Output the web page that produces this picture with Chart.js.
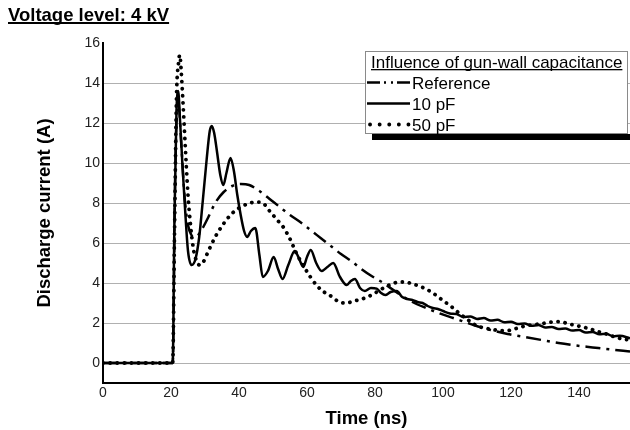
<!DOCTYPE html>
<html><head><meta charset="utf-8">
<script src="https://cdn.jsdelivr.net/npm/chart.js@4"></script>
<style>html,body{margin:0;padding:0;background:#fff}canvas{display:block}</style>
</head><body>
<canvas id="c" width="630" height="430"></canvas>
<script>
const FONT = '"Liberation Sans", Arial, Helvetica, sans-serif';
const chartTitle = 'Voltage level: 4 kV';
const legendTitle = 'Influence of gun-wall capacitance';
const seriesNames = ['Reference', '10 pF', '50 pF'];
const xAxisTitle = 'Time (ns)';
const yAxisTitle = 'Discharge current (A)';
const xTicks = [0, 20, 40, 60, 80, 100, 120, 140];
const yTicks = [0, 2, 4, 6, 8, 10, 12, 14, 16];

const refTime = [0, 20.5, 21.2, 21.7, 22.2, 23.0, 24.0, 25.0, 26.0, 27.0, 28.0, 29.5, 31.0, 33.0, 35.5, 38.0, 40.5, 43.0, 46.0, 49.0, 52.0, 55.0, 58.0, 61.0, 64.0, 67.0, 70.0, 73.0, 76.0, 79.0, 82.0, 85.0, 88.0, 91.0, 95.0, 99.0, 103.0, 109.0, 114.0, 119.0, 124.0, 129.0, 134.0, 139.0, 144.0, 149.0, 155.0];
const refCurrent = [0, 0, 9.0, 12.4, 13.0, 11.0, 8.3, 6.9, 6.4, 6.3, 6.4, 6.8, 7.3, 8.0, 8.55, 8.85, 8.95, 8.9, 8.6, 8.2, 7.8, 7.4, 7.05, 6.65, 6.25, 5.85, 5.45, 5.1, 4.7, 4.35, 4.05, 3.7, 3.35, 3.05, 2.75, 2.48, 2.25, 1.9, 1.65, 1.45, 1.3, 1.15, 1.0, 0.88, 0.78, 0.68, 0.58];

const tenTime = [0, 20.5, 21.0, 21.6, 22.1, 22.7, 23.4, 24.1, 25.0, 26.1, 27.2, 28.3, 29.4, 30.5, 31.4, 32.0, 32.7, 33.5, 34.5, 35.4, 36.3, 37.5, 38.5, 39.5, 40.5, 41.5, 42.4, 43.5, 44.8, 46.0, 47.0, 48.5, 50.2, 51.5, 52.8, 54.5, 56.4, 57.7, 58.9, 60.0, 61.1, 62.7, 64.3, 66.0, 67.7, 69.7, 71.7, 72.9, 74.1, 75.6, 77.0, 78.8, 80.5, 81.8, 83.0, 84.6, 86.4, 88.0, 89.5, 91.0, 92.5, 94.0, 95.5, 97.0, 98.5, 100, 102, 104, 106, 108, 110, 112, 114, 116, 118, 120, 122, 124, 126, 128, 130, 132, 134, 136, 138, 140, 142, 144, 146, 148, 150, 152, 155];
const tenCurrent = [0, 0, 7.0, 12.5, 13.6, 12.0, 9.8, 7.8, 5.6, 4.9, 5.2, 6.3, 8.2, 10.2, 11.6, 11.85, 11.5, 10.6, 9.4, 8.9, 9.5, 10.25, 9.6, 8.4, 7.4, 6.6, 6.3, 6.6, 6.75, 5.4, 4.3, 4.6, 5.3, 4.7, 4.2, 4.9, 5.6, 5.2, 4.8, 5.3, 5.65, 5.0, 4.6, 4.8, 5.0, 4.3, 3.9, 4.1, 4.2, 3.75, 3.6, 3.75, 3.72, 3.5, 3.4, 3.55, 3.6, 3.3, 3.2, 3.15, 3.05, 3.0, 2.85, 2.75, 2.7, 2.6, 2.48, 2.45, 2.3, 2.33, 2.2, 2.25, 2.12, 2.16, 2.04, 2.06, 1.95, 1.98, 1.86, 1.9, 1.78, 1.8, 1.7, 1.72, 1.62, 1.65, 1.52, 1.55, 1.44, 1.46, 1.34, 1.36, 1.24];

const fiftyTime = [0, 20.5, 21.0, 21.6, 22.2, 22.6, 23.0, 23.6, 24.3, 25.0, 25.8, 26.6, 27.5, 28.4, 29.5, 31.0, 33.0, 35.0, 37.5, 40.0, 42.5, 45.0, 47.0, 49.0, 51.0, 53.0, 55.0, 57.0, 59.0, 61.0, 63.0, 65.0, 67.0, 69.0, 71.0, 73.0, 75.0, 77.0, 79.0, 81.0, 83.0, 85.0, 87.0, 89.0, 91.0, 93.0, 95.0, 97.0, 99.0, 101, 103, 105, 107, 109, 111, 113, 115, 117, 119, 121, 123, 125, 127, 129, 131, 133, 135, 137, 139, 141, 143, 145, 147, 149, 151, 153, 155];
const fiftyCurrent = [0, 0, 6.0, 13.2, 15.0, 15.4, 14.6, 12.8, 10.5, 8.4, 6.8, 5.7, 5.1, 4.9, 5.05, 5.6, 6.3, 6.85, 7.4, 7.75, 7.95, 8.05, 8.0, 7.6, 7.2, 6.8, 6.2, 5.45, 4.85, 4.3, 3.85, 3.55, 3.35, 3.1, 3.0, 3.05, 3.15, 3.25, 3.4, 3.6, 3.8, 3.95, 4.05, 4.05, 3.95, 3.85, 3.7, 3.5, 3.25, 3.0, 2.75, 2.45, 2.2, 1.95, 1.8, 1.72, 1.66, 1.62, 1.62, 1.7, 1.8, 1.88, 1.92, 1.97, 2.02, 2.07, 2.05, 1.95, 1.88, 1.8, 1.72, 1.6, 1.5, 1.4, 1.27, 1.2, 1.15];

const toPts = (ts, vs) => ts.map((t, i) => ({x: t, y: vs[i]}));

const styles = [
  {borderWidth: 2.5, borderDash: [15, 6, 3, 6], borderCapStyle: 'butt', legendDash: [13, 4, 2, 5, 2, 4]},
  {borderWidth: 2.5, borderDash: [], borderCapStyle: 'butt', legendDash: []},
  {borderWidth: 3.8, borderDash: [0.1, 7], borderCapStyle: 'round', legendDash: [0.1, 9.5]}
];

const overlay = {
  id: 'overlay',
  afterDraw(chart) {
    const c = chart.ctx;
    c.save();
    c.textAlign = 'left';
    c.textBaseline = 'alphabetic';
    c.fillStyle = '#000';
    c.font = 'bold 18.5px ' + FONT;
    c.fillText(chartTitle, 8, 20.5);
    c.fillRect(8, 22, c.measureText(chartTitle).width, 2);
    // legend
    c.fillStyle = '#000';
    c.fillRect(372, 134, 260, 6);
    c.fillStyle = '#fff';
    c.fillRect(365, 51, 263, 83);
    c.strokeStyle = '#8a8a8a';
    c.lineWidth = 1;
    c.strokeRect(365.5, 51.5, 262, 82);
    c.fillStyle = '#000';
    c.font = '17px ' + FONT;
    c.fillText(legendTitle, 371, 67.5);
    c.fillRect(371, 69, c.measureText(legendTitle).width, 1.3);
    const bases = [88.5, 109.5, 130.5];
    seriesNames.forEach((name, i) => {
      const st = styles[i];
      const y = bases[i] - 6;
      c.beginPath();
      c.setLineDash(st.legendDash);
      c.lineCap = st.borderCapStyle;
      c.lineWidth = st.borderWidth;
      c.strokeStyle = '#000';
      c.moveTo(i === 2 ? 370 : 367, y);
      c.lineTo(410, y);
      c.stroke();
      c.setLineDash([]);
      c.fillText(name, 412, bases[i]);
    });
    c.restore();
  }
};

const datasets = [
  toPts(refTime, refCurrent),
  toPts(tenTime, tenCurrent),
  toPts(fiftyTime, fiftyCurrent)
].map((d, i) => ({
  label: seriesNames[i],
  data: d,
  borderColor: '#000',
  backgroundColor: '#000',
  borderWidth: styles[i].borderWidth,
  borderDash: styles[i].borderDash,
  borderCapStyle: styles[i].borderCapStyle,
  borderJoinStyle: 'round',
  pointRadius: 0,
  fill: false,
  cubicInterpolationMode: 'monotone'
}));

new Chart(document.getElementById('c'), {
  type: 'line',
  data: {datasets},
  options: {
    responsive: false,
    animation: false,
    devicePixelRatio: 1,
    layout: {padding: {top: 43, left: 0, right: 0, bottom: 0}},
    plugins: {legend: {display: false}, tooltip: {enabled: false}, title: {display: false}},
    scales: {
      x: {
        type: 'linear', min: 0, max: 155,
        afterBuildTicks: s => { s.ticks = xTicks.map(v => ({value: v})); },
        afterFit: s => { s.height = 47; },
        grid: {display: false, drawTicks: false},
        border: {display: true, color: '#000', width: 2},
        ticks: {color: '#222', font: {family: FONT, size: 14}, padding: 2, maxRotation: 0, autoSkip: false},
        title: {display: true, text: xAxisTitle, color: '#000', font: {family: FONT, size: 18.5, weight: 'bold'}, padding: {top: 0, bottom: 0}}
      },
      y: {
        type: 'linear', min: -1, max: 16,
        afterBuildTicks: s => { s.ticks = yTicks.map(v => ({value: v})); },
        afterFit: s => { s.width = 103; },
        grid: {color: ctx => (ctx.tick && ctx.tick.value === 16) ? 'rgba(0,0,0,0)' : '#b0b0b0', lineWidth: 1, drawTicks: false},
        border: {display: true, color: '#000', width: 2},
        ticks: {color: '#222', font: {family: FONT, size: 14}, padding: 3},
        title: {display: true, text: yAxisTitle, color: '#000', font: {family: FONT, size: 18.5, weight: 'bold'}, padding: {top: 34, bottom: 0}}
      }
    }
  },
  plugins: [overlay]
});
</script>
</body></html>
